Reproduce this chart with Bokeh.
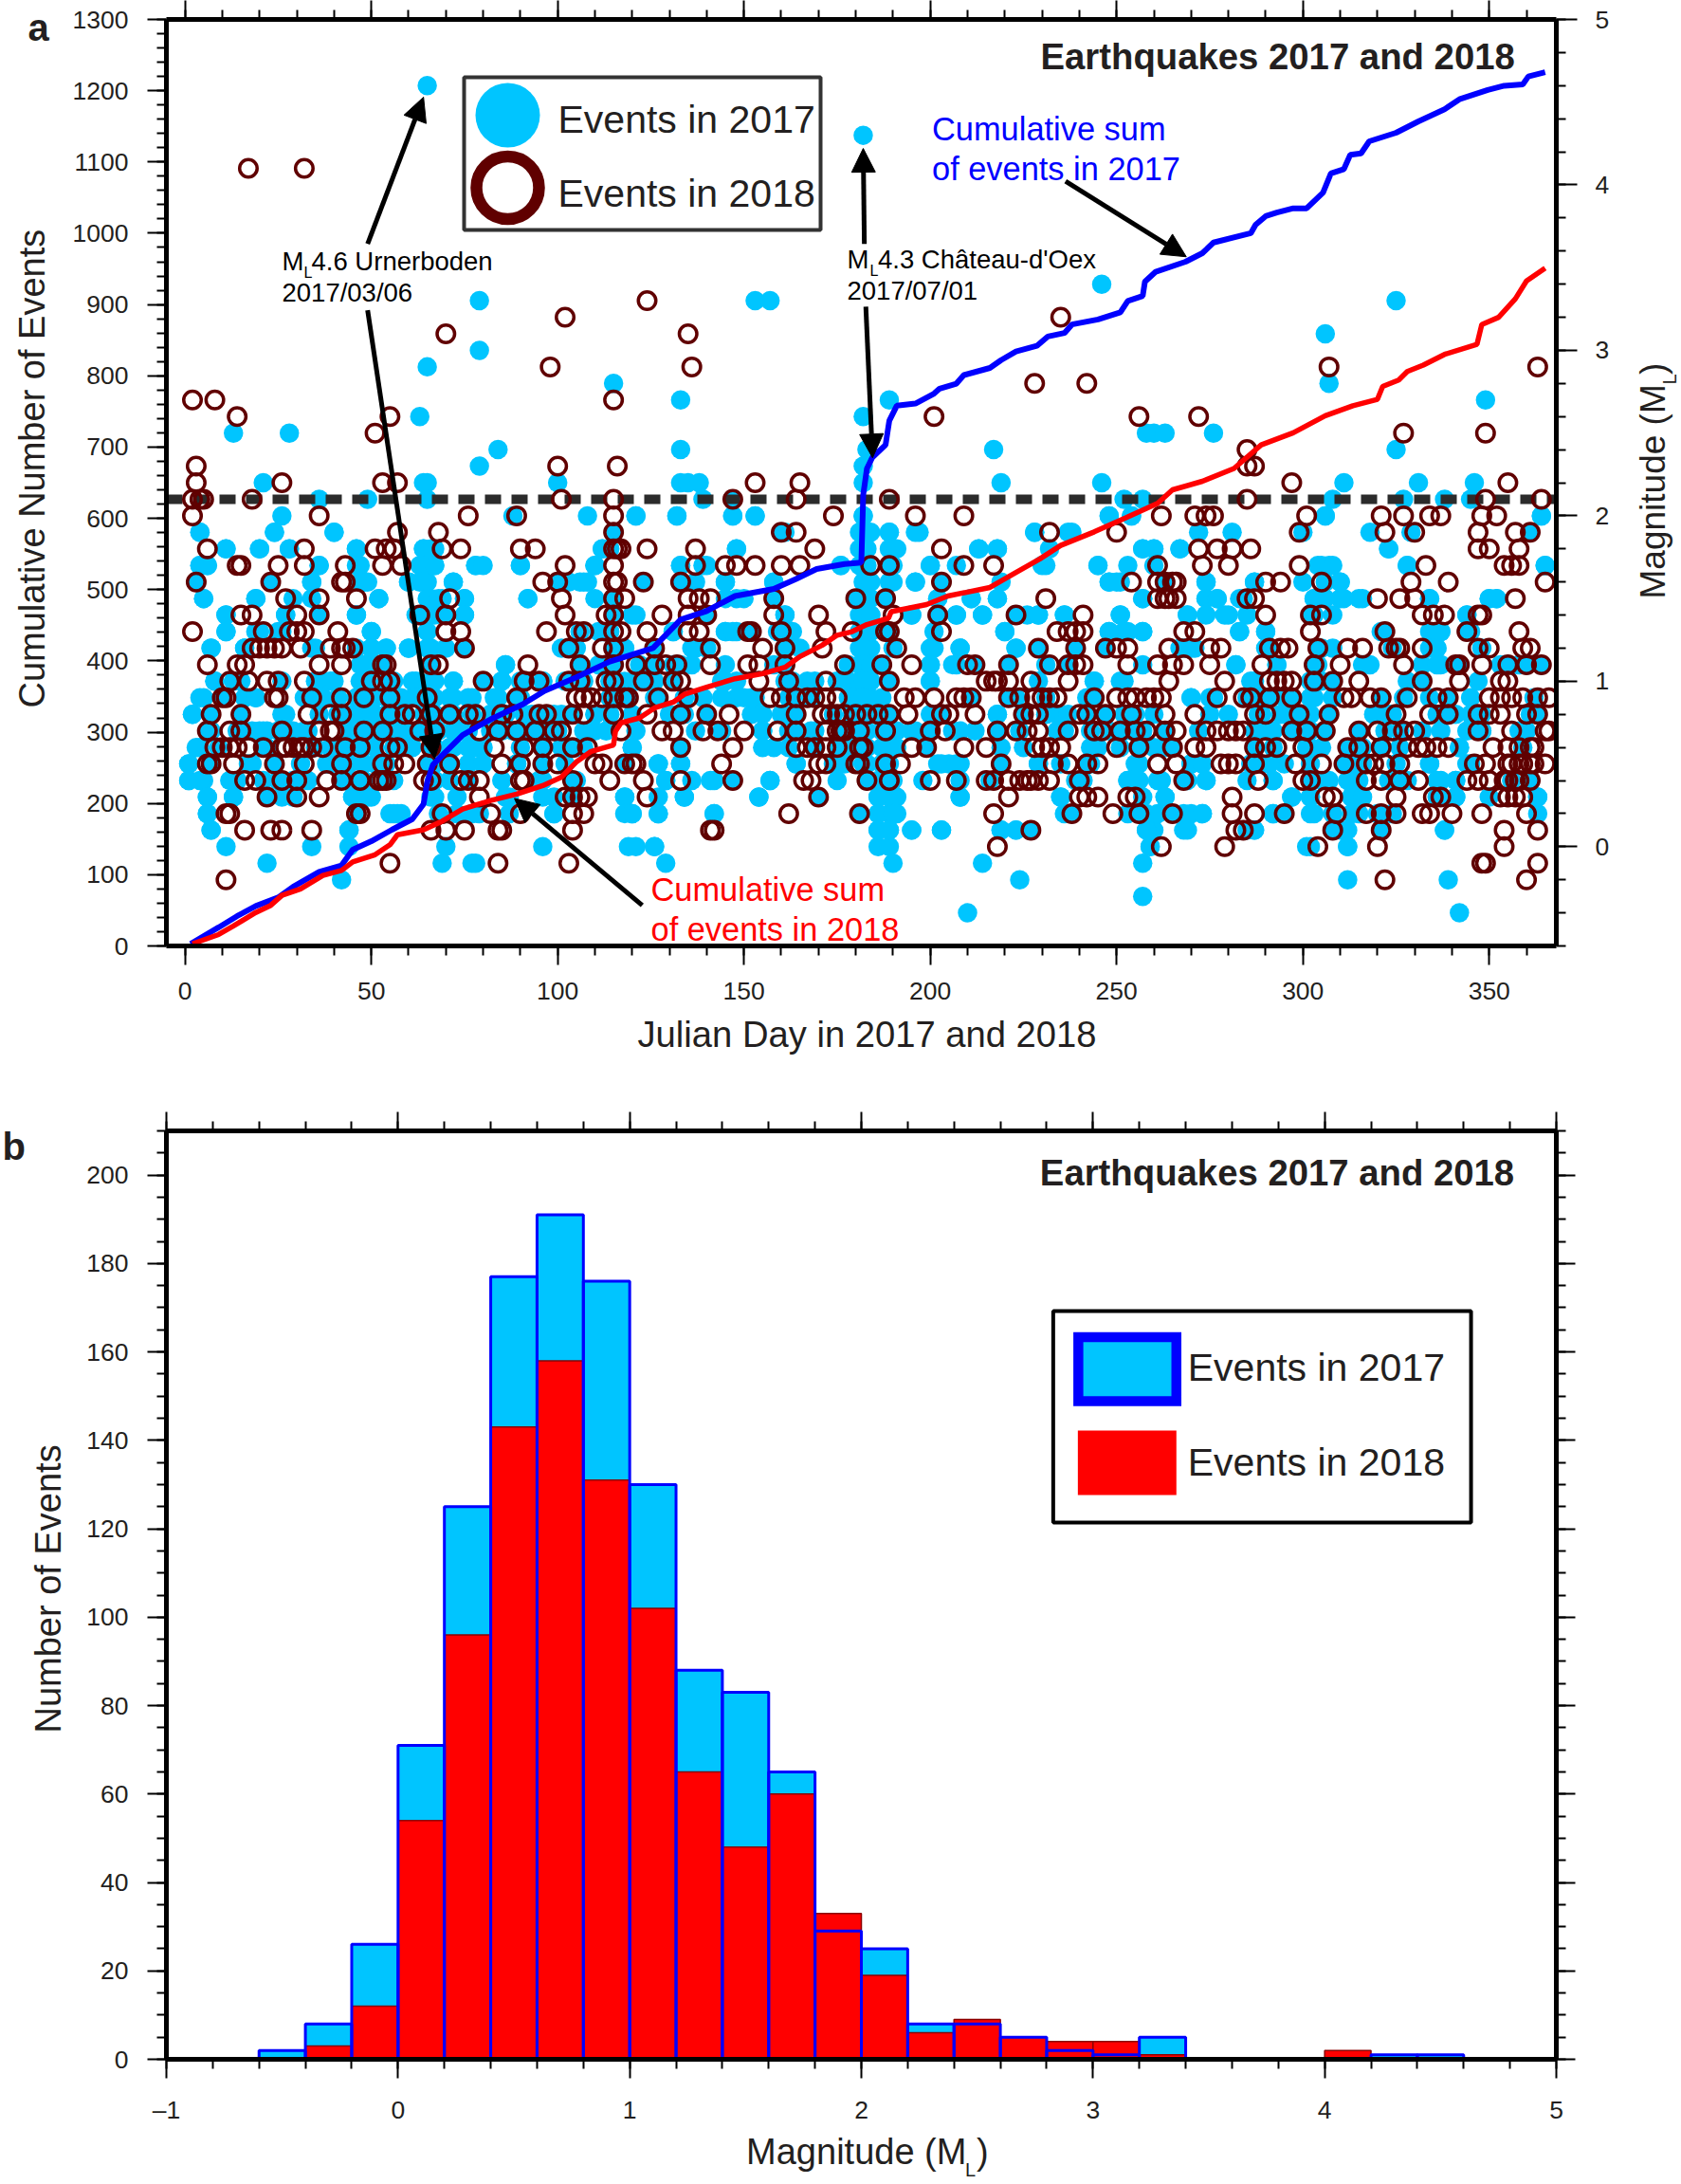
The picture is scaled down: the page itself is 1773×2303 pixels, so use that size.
from bokeh.plotting import figure
from bokeh.layouts import column
from bokeh.embed import file_html
from bokeh.resources import INLINE
from bokeh.models import Range1d, LinearAxis, FixedTicker, Label, Arrow, NormalHead

# ---------- Panel a: events (day of year per 0.1 magnitude class) ----------
mags_2017 = [4.6, 4.3, 3.4, 3.3, 3.1, 3.0, 2.9, 2.8, 2.7, 2.6, 2.5, 2.4, 2.3, 2.2, 2.1, 2.0, 1.9, 1.8, 1.7, 1.6, 1.5,
             1.4, 1.3, 1.2, 1.1, 1.0, 0.9, 0.8, 0.7, 0.6, 0.5, 0.4, 0.3, 0.2, 0.1, 0.0, -0.1, -0.2, -0.3, -0.4]
days_2017 = [
    [65], [182], [246], [79, 153, 157, 325], [306], [79], [65], [115, 307], [133, 189, 349], [63, 182],
    [13, 28, 258, 260, 263, 276], [84, 133, 183, 217, 325], [79, 182],
    [21, 64, 65, 100, 133, 135, 138, 182, 219, 246, 311, 331, 346],
    [36, 49, 65, 139, 147, 252, 257, 308, 327, 338, 345],
    [26, 88, 108, 121, 132, 147, 153, 182, 248, 254, 306, 364],
    [4, 24, 40, 115, 161, 183, 189, 196, 228, 238, 300, 329],
    [11, 20, 28, 46, 64, 67, 112, 114, 148, 183, 190, 213, 218, 257, 260, 267, 323],
    [4, 6, 36, 47, 63, 65, 67, 78, 90, 110, 133, 139, 176, 183, 190, 200, 231, 245, 305, 307, 328, 365],
    [23, 34, 47, 48, 60, 63, 65, 72, 103, 107, 123, 145, 158, 183, 189, 196, 248, 251, 274, 287, 306, 310],
    [5, 19, 29, 34, 52, 66, 69, 75, 92, 110, 148, 182, 183, 202, 211, 218, 257, 274, 277, 283, 303, 310, 315, 334, 350, 352],
    [11, 27, 36, 46, 63, 67, 75, 120, 161, 181, 184, 195, 207, 214, 226, 229, 236, 251, 269, 279, 303, 344],
    [11, 19, 25, 50, 111, 114, 131, 145, 148, 152, 159, 181, 184, 220, 248, 252, 257, 283, 290, 322, 334, 337, 344],
    [7, 16, 34, 46, 50, 54, 60, 66, 70, 101, 105, 118, 126, 137, 181, 184, 200, 208, 223, 239, 267, 270, 290, 305, 334],
    [47, 50, 53, 66, 86, 111, 133, 145, 158, 181, 184, 200, 206, 282, 293, 303, 318, 337, 354, 358],
    [8, 15, 26, 37, 39, 47, 56, 61, 66, 72, 85, 91, 96, 118, 121, 126, 145, 148, 161, 169, 175, 178, 181, 184, 200, 244,
     251, 287, 302, 305, 328, 332, 347],
    [5, 10, 19, 32, 37, 41, 46, 51, 58, 61, 67, 72, 77, 84, 90, 127, 139, 148, 153, 162, 168, 178, 181, 184, 187, 211,
     221, 242, 270, 276, 289, 295, 302, 303, 321, 334, 345],
    [2, 15, 26, 41, 45, 48, 51, 58, 64, 67, 72, 77, 82, 86, 91, 96, 101, 110, 120, 152, 155, 161, 179, 183, 187, 218,
     231, 234, 247, 255, 260, 289, 295, 299, 319, 323, 341, 361],
    [7, 18, 21, 28, 32, 44, 51, 56, 59, 66, 72, 76, 82, 91, 96, 110, 121, 137, 155, 162, 169, 178, 183, 187, 191, 196,
     208, 212, 234, 254, 290, 297, 302, 322, 337, 348, 360],
    [4, 22, 39, 44, 51, 58, 66, 72, 78, 96, 105, 120, 133, 158, 175, 178, 183, 187, 191, 225, 245, 263, 302, 305, 342],
    [1, 18, 38, 44, 51, 67, 76, 89, 96, 118, 127, 133, 164, 174, 183, 187, 202, 205, 208, 229, 242, 255, 270, 273, 289,
     295, 313, 334, 344],
    [1, 5, 12, 25, 44, 54, 67, 96, 105, 129, 142, 157, 175, 183, 186, 190, 241, 253, 261, 268, 274, 292, 305, 312, 315,
     323, 326, 337, 341, 361],
    [6, 13, 26, 45, 50, 66, 86, 99, 118, 134, 154, 186, 189, 191, 208, 235, 263, 297, 302, 313, 337, 341, 363],
    [6, 56, 58, 79, 99, 120, 127, 142, 186, 189, 191, 236, 253, 258, 268, 273, 292, 303, 315, 320],
    [7, 44, 186, 189, 195, 203, 219, 223, 258, 260, 268, 287, 310, 321, 338],
    [11, 34, 44, 70, 96, 119, 126, 186, 189, 259, 301, 312],
    [22, 69, 77, 78, 129, 190, 214, 257],
    [42, 224, 312, 339],
    [257],
    [210, 342],
]

more_mags_2017 = [2.0, 1.9, 1.8, 1.7, 1.6, 1.5, 1.4, 1.3, 1.2, 1.1, 1.0, 0.9, 0.8, 0.7, 0.6, 0.5, 0.4, 0.3, 0.2, 0.1, 0.0]
more_days_2017 = [
    [121, 132, 147, 153, 182, 248, 254, 306, 364],
    [4, 24, 40, 160, 181, 184, 189, 197, 228, 237, 272, 281, 318, 361],
    [11, 20, 28, 46, 64, 66, 112, 148, 181, 189, 191, 213, 218, 232, 257, 260, 267, 323],
    [4, 6, 36, 46, 64, 67, 78, 80, 90, 110, 133, 140, 176, 181, 189, 200, 207, 230, 245, 253, 260, 304, 308, 328, 365],
    [3, 23, 34, 48, 49, 60, 64, 72, 100, 106, 108, 123, 133, 137, 145, 158, 182, 184, 190, 196, 203, 219, 248, 250,
     263, 274, 287, 300, 310],
    [5, 19, 52, 65, 68, 75, 92, 115, 145, 150, 158, 180, 184, 188, 202, 211, 218, 257, 274, 277, 284, 303, 306, 311,
     316, 334, 350, 352],
    [11, 27, 36, 46, 62, 70, 75, 115, 121, 140, 161, 182, 184, 195, 202, 207, 214, 223, 229, 236, 251, 269, 274, 280,
     285, 302, 308, 344],
    [11, 20, 26, 50, 65, 106, 112, 131, 145, 147, 160, 163, 182, 184, 189, 201, 220, 248, 253, 257, 283, 290, 321, 336,
     337, 345],
    [7, 16, 35, 50, 54, 60, 65, 75, 103, 115, 136, 140, 161, 165, 182, 190, 201, 208, 223, 229, 247, 268, 271, 291,
     304, 308, 324, 336, 348],
    [48, 53, 86, 106, 115, 122, 126, 131, 136, 161, 178, 182, 184, 187, 200, 207, 212, 221, 231, 237, 257, 282, 293,
     304, 316, 332, 336, 342, 353, 360, 364],
    [8, 13, 35, 40, 49, 54, 62, 67, 72, 80, 85, 90, 96, 102, 107, 114, 123, 131, 144, 163, 167, 182, 184, 189, 200, 229,
     244, 252, 286, 302, 308, 332],
    [4, 10, 16, 19, 34, 46, 49, 54, 62, 65, 71, 76, 83, 89, 114, 119, 126, 134, 144, 150, 152, 163, 179, 182, 223, 231,
     244, 270, 275, 285, 291, 297, 302, 308, 327, 339, 362],
    [2, 7, 15, 27, 36, 46, 50, 54, 59, 67, 71, 82, 86, 93, 99, 104, 110, 114, 130, 134, 140, 160, 164, 174, 181, 189,
     200, 203, 218, 225, 231, 237, 242, 252, 275, 280, 288, 294, 302, 307, 319, 324, 336, 340, 345, 348, 363],
    [6, 14, 20, 22, 25, 29, 33, 48, 53, 58, 62, 68, 74, 83, 85, 88, 94, 100, 107, 113, 144, 155, 164, 168, 177, 181,
     190, 195, 200, 206, 218, 224, 236, 243, 248, 252, 257, 263, 272, 287, 292, 306, 315, 326, 332, 344, 348, 358],
    [3, 9, 21, 35, 42, 48, 56, 61, 67, 71, 76, 80, 90, 96, 101, 107, 120, 133, 155, 162, 169, 182, 189, 199, 219, 243,
     251, 256, 260, 265, 287, 292, 301, 312, 316, 321, 326, 342, 359],
    [1, 7, 17, 24, 31, 39, 42, 48, 54, 65, 71, 80, 89, 96, 102, 127, 133, 164, 177, 182, 189, 203, 207, 219, 229, 235,
     243, 256, 270, 273, 286, 291, 302, 311, 316, 325, 334, 345],
    [1, 4, 14, 21, 29, 33, 42, 48, 56, 67, 71, 76, 85, 95, 104, 129, 136, 141, 147, 157, 183, 189, 198, 208, 216, 239,
     253, 256, 262, 269, 274, 285, 292, 302, 307, 313, 328, 336, 341, 356],
    [6, 13, 22, 29, 45, 49, 67, 73, 87, 96, 104, 118, 127, 134, 154, 170, 186, 190, 208, 235, 257, 263, 297, 302, 313,
     316, 336, 341, 350, 363],
    [6, 46, 55, 57, 68, 73, 77, 87, 99, 118, 120, 127, 142, 181, 186, 190, 238, 256, 261, 265, 270, 273, 292, 295, 302,
     308, 313, 324, 363],
    [7, 44, 186, 189, 195, 203, 219, 223, 227, 258, 269, 285, 287, 308, 312, 321, 338],
    [121, 126, 259, 302, 312],
]

mags_2018 = [4.1, 3.3, 3.2, 3.1, 2.9, 2.8, 2.7, 2.6, 2.5, 2.4, 2.3, 2.2, 2.1, 2.0, 1.9, 1.8, 1.7, 1.6, 1.5, 1.4, 1.3,
             1.2, 1.1, 1.0, 0.9, 0.8, 0.7, 0.6, 0.5, 0.4, 0.3, 0.2, 0.1, 0.0, -0.1, -0.2]
days_2018 = [
    [17, 32], [124], [102, 235], [70, 135], [98, 136, 307, 363], [228, 242], [2, 8, 115], [14, 55, 201, 256, 272],
    [51, 327, 349], [285], [3, 100, 116, 285, 287], [3, 26, 53, 57, 153, 165, 297, 355],
    [2, 4, 5, 18, 101, 115, 147, 164, 189, 285, 349, 364],
    [2, 36, 76, 89, 115, 174, 196, 209, 262, 271, 274, 276, 301, 321, 327, 334, 337, 348, 352],
    [57, 68, 115, 160, 164, 232, 250, 299, 322, 330, 347, 357, 361],
    [6, 32, 51, 54, 56, 69, 74, 90, 94, 115, 116, 117, 124, 137, 169, 203, 272, 277, 281, 286, 347, 350, 358],
    [14, 15, 25, 32, 43, 53, 58, 102, 115, 137, 145, 148, 153, 160, 165, 184, 189, 209, 217, 261, 273, 280, 299, 333,
     354, 356, 358],
    [3, 23, 42, 43, 96, 100, 115, 116, 123, 133, 203, 254, 261, 263, 265, 266, 290, 294, 305, 329, 339, 365],
    [27, 36, 46, 71, 101, 115, 118, 135, 138, 141, 158, 180, 188, 231, 261, 263, 264, 266, 285, 287, 320, 326, 330, 357],
    [15, 18, 30, 36, 63, 70, 102, 113, 115, 128, 135, 140, 158, 170, 190, 202, 223, 241, 290, 302, 305, 332, 335, 338,
     347, 348],
    [2, 21, 28, 30, 32, 41, 70, 74, 97, 105, 107, 115, 117, 124, 135, 138, 151, 152, 160, 172, 179, 188, 189, 203, 234,
     237, 239, 241, 268, 271, 302, 322, 344, 358],
    [18, 20, 22, 24, 26, 31, 39, 42, 43, 45, 75, 103, 112, 115, 126, 141, 155, 161, 171, 191, 229, 239, 247, 250, 253,
     264, 275, 278, 291, 294, 296, 304, 312, 316, 323, 325, 326, 332, 347, 350, 359, 361],
    [6, 14, 16, 36, 42, 53, 54, 66, 68, 92, 106, 115, 121, 126, 129, 132, 141, 151, 154, 161, 177, 187, 195, 210, 212,
     221, 232, 237, 239, 241, 253, 261, 265, 268, 275, 289, 303, 310, 327, 341, 342, 348, 355, 360, 364],
    [12, 17, 22, 25, 32, 50, 53, 55, 80, 91, 95, 103, 106, 113, 115, 123, 131, 133, 154, 162, 172, 189, 215, 217, 218,
     221, 227, 237, 264, 279, 291, 293, 295, 297, 303, 308, 315, 332, 342, 353, 355],
    [10, 11, 24, 25, 34, 42, 48, 55, 65, 89, 105, 107, 109, 112, 115, 118, 119, 127, 135, 157, 160, 164, 167, 169, 172,
     175, 193, 196, 201, 207, 209, 211, 221, 224, 228, 230, 232, 234, 244, 250, 253, 255, 258, 260, 262, 277, 284, 286,
     291, 297, 311, 313, 318, 321, 328, 336, 339, 350, 353, 356, 359, 363, 366],
    [7, 15, 33, 39, 42, 55, 59, 61, 66, 71, 76, 78, 85, 88, 95, 97, 104, 107, 115, 124, 133, 140, 146, 164, 171, 173,
     175, 177, 180, 183, 186, 189, 194, 203, 205, 212, 225, 227, 229, 240, 242, 247, 254, 263, 271, 287, 290, 299, 307,
     325, 334, 339, 347, 350, 353, 360, 363],
    [6, 12, 15, 26, 36, 39, 40, 48, 53, 63, 67, 79, 84, 89, 94, 99, 101, 117, 128, 131, 139, 143, 150, 159, 164, 172,
     175, 177, 176, 181, 188, 200, 204, 218, 223, 226, 229, 237, 244, 246, 251, 255, 258, 263, 266, 274, 277, 280, 282,
     284, 297, 301, 306, 315, 320, 324, 327, 330, 347, 356, 365, 366],
    [8, 10, 12, 14, 17, 21, 26, 27, 29, 31, 32, 34, 37, 43, 47, 55, 57, 66, 83, 91, 96, 104, 108, 133, 147, 164, 167,
     169, 172, 175, 181, 182, 195, 199, 209, 215, 228, 230, 232, 235, 250, 256, 265, 271, 274, 287, 290, 293, 300, 312,
     315, 321, 328, 331, 333, 336, 339, 351, 355, 358, 361, 362],
    [6, 7, 13, 24, 32, 42, 53, 56, 59, 65, 71, 85, 90, 96, 100, 110, 112, 118, 120, 121, 144, 170, 172, 180, 181, 188,
     192, 219, 233, 237, 242, 245, 261, 266, 278, 280, 282, 287, 298, 305, 311, 317, 319, 322, 326, 346, 349, 355, 356,
     358, 359, 361, 362, 365],
    [16, 19, 26, 30, 38, 42, 47, 52, 53, 54, 64, 66, 74, 76, 79, 90, 91, 104, 114, 123, 133, 147, 166, 168, 183, 189,
     200, 207, 215, 217, 221, 224, 226, 227, 229, 232, 240, 268, 288, 300, 302, 317, 321, 326, 331, 344, 347, 350, 354,
     355, 357, 358, 361],
    [22, 30, 36, 79, 102, 104, 106, 108, 124, 170, 221, 240, 242, 245, 253, 255, 281, 306, 308, 325, 335, 337, 353, 355,
     357, 359],
    [11, 12, 46, 47, 69, 82, 90, 104, 107, 162, 181, 217, 238, 249, 256, 265, 281, 287, 295, 309, 317, 321, 325, 332,
     334, 340, 348, 360],
    [16, 23, 26, 34, 66, 70, 75, 84, 85, 104, 141, 142, 227, 282, 284, 308, 321, 354, 363],
    [218, 262, 279, 304, 320, 354],
    [55, 84, 103, 348, 349, 363],
    [11, 322, 360],
]

threshold_mag = 2.1

# Cumulative sums: (day, number of events)
cum_days_2017 = [1.5, 9, 14, 19, 25, 29, 36, 42, 45, 50, 55.5, 61, 64, 65, 66.5, 69.5, 74.5, 82, 90.6, 96.5, 105, 114,
                 125.6, 133, 140, 147.6, 158, 164, 169.5, 177, 181.5, 182, 183, 184.4, 188, 189, 191, 196, 201, 202.5,
                 207, 209, 216, 219, 223, 228.6, 231.5, 236, 238, 245, 251, 253, 257, 257.6, 260.5, 268.5, 273, 276,
                 286, 287.3, 290, 293, 297.4, 301, 305.4, 307.5, 311, 312.7, 315.6, 317.8, 325, 331, 338, 342, 349.6,
                 354, 359, 360.5, 365]
cum_vals_2017 = [3, 26, 42, 56, 68, 83, 104, 113, 135, 147, 163, 178, 199, 230, 254, 270, 296, 318, 339, 358, 377, 399,
                 418, 458, 470, 491, 501, 515, 529, 536, 538, 633, 670, 685, 703, 737, 758, 761, 775, 782, 789, 801,
                 811, 822, 834, 842, 855, 860, 872, 879, 889, 905, 912, 932, 946, 960, 972, 987, 1000, 1012, 1024,
                 1029, 1035, 1035, 1057, 1084, 1090, 1110, 1112, 1129, 1141, 1157, 1174, 1188, 1201, 1207, 1209, 1220,
                 1226]
cum_days_2018 = [2, 9, 13, 19, 23, 26, 31, 37, 42, 45, 51, 55, 57, 64, 69, 74.5, 82, 89, 96, 101, 105, 109, 115, 115.5,
                 117, 122, 126, 131, 134, 140, 147.6, 155, 161, 165, 171, 175, 179, 183, 188.8, 189.5, 199, 204.7, 216,
                 222, 229.4, 235, 244, 252.6, 261, 265, 273, 281.5, 288.8, 297.4, 306, 313.4, 320, 321.4, 325.7, 328,
                 332.3, 338, 346.7, 348, 352.5, 357, 360, 365]
cum_vals_2018 = [3, 16, 28, 47, 57, 71, 80, 99, 106, 118, 128, 142, 156, 163, 175, 192, 204, 213, 225, 237, 258, 273,
                 282, 301, 313, 320, 334, 342, 353, 363, 375, 382, 391, 406, 422, 436, 441, 451, 460, 469, 479, 491,
                 503, 521, 543, 562, 581, 601, 621, 640, 652, 670, 703, 720, 744, 758, 767, 785, 794, 806, 815, 830,
                 844, 872, 882, 908, 933, 951]

# ---------- Panel b: histogram ----------
bin_left = [-0.6, -0.4, -0.2, 0.0, 0.2, 0.4, 0.6, 0.8, 1.0, 1.2, 1.4, 1.6, 1.8, 2.0, 2.2, 2.4, 2.6, 2.8, 3.0, 3.2, 3.4,
            3.6, 3.8, 4.0, 4.2, 4.4]
bin_right = [-0.4, -0.2, 0.0, 0.2, 0.4, 0.6, 0.8, 1.0, 1.2, 1.4, 1.6, 1.8, 2.0, 2.2, 2.4, 2.6, 2.8, 3.0, 3.2, 3.4, 3.6,
             3.8, 4.0, 4.2, 4.4, 4.6]
hist_2017 = [2, 8, 26, 71, 125, 177, 191, 176, 130, 88, 83, 65, 29, 25, 8, 8, 5, 2, 1, 5, 0, 0, 0, 0, 1, 1]
hist_2018 = [0, 3, 12, 54, 96, 143, 158, 131, 102, 65, 48, 60, 33, 19, 6, 9, 5, 4, 4, 1, 0, 0, 0, 2, 0, 0]

CYAN, MAROON, BLUE, RED = "#00c5ff", "#600000", "#0000ff", "#ff0000"
TXT, FONT = "#231f20", "Liberation Sans"
W, Ha, Hb = 1773, 1130, 1173

def setup(p, major_b, minor_b):
    for ax in p.axis:
        ax.axis_line_width = 5
        ax.axis_line_color = "black"
        ax.major_tick_line_width = 2
        ax.minor_tick_line_width = 2
        ax.major_tick_line_color = "black"
        ax.minor_tick_line_color = "black"
        ax.major_tick_out = 20
        ax.minor_tick_out = 10
        ax.major_tick_in = 0
        ax.minor_tick_in = 0
        ax.major_label_text_font = FONT
        ax.major_label_text_font_size = "26.5px"
        ax.major_label_text_color = TXT
    p.xaxis.ticker = FixedTicker(ticks=major_b, minor_ticks=minor_b)
    p.outline_line_color = None
    p.xgrid.visible = False
    p.ygrid.visible = False
    p.background_fill_color = "white"

def blank(ax, ticks):
    ax.major_label_overrides = {t: "" for t in ticks}
    ax.major_label_text_font_size = "1px"
    ax.major_label_standoff = 0

# ---------- Panel a figure ----------
fa = figure(width=W, height=Ha, x_range=Range1d(-5, 368), y_range=Range1d(0, 1300),
            toolbar_location=None, output_backend="svg", min_border_left=175, min_border_right=132,
            min_border_top=20, min_border_bottom=133)
fa.extra_y_ranges = {"mag": Range1d(-0.6, 5)}
days_major = list(range(0, 351, 50))
days_minor = list(range(0, 361, 10))
cum_major = list(range(0, 1301, 100))
cum_minor = list(range(0, 1301, 20))
mag_major = [0, 1, 2, 3, 4, 5]
mag_minor = [round(-0.6 + 0.2 * i, 1) for i in range(29)]
fa.add_layout(LinearAxis(y_range_name="mag"), "right")
fa.add_layout(LinearAxis(), "above")
setup(fa, days_major, days_minor)
fa.left[0].ticker = FixedTicker(ticks=cum_major, minor_ticks=cum_minor)
fa.right[0].ticker = FixedTicker(ticks=mag_major, minor_ticks=mag_minor)
fa.above[0].ticker = FixedTicker(ticks=days_major, minor_ticks=days_minor)
blank(fa.above[0], days_major)
fa.below[0].major_label_standoff = 18
fa.left[0].major_label_standoff = 20
fa.right[0].major_label_standoff = 19
fa.right[0].major_tick_out = 22

ax17 = [d for m, ds in zip(mags_2017, days_2017) for d in ds]
ay17 = [m for m, ds in zip(mags_2017, days_2017) for d in ds]
ax17 += [d for m, ds in zip(more_mags_2017, more_days_2017) for d in ds]
ay17 += [m for m, ds in zip(more_mags_2017, more_days_2017) for d in ds]
ax18 = [d for m, ds in zip(mags_2018, days_2018) for d in ds]
ay18 = [m for m, ds in zip(mags_2018, days_2018) for d in ds]
fa.scatter(ax17, ay17, y_range_name="mag", size=20.5, fill_color=CYAN, line_color=None)
fa.line(x=[-5, 368], y=[threshold_mag, threshold_mag], y_range_name="mag", line_color="#2b2b2b", line_width=10,
        line_dash="17 11")
fa.scatter(ax18, ay18, y_range_name="mag", size=18.5, fill_color=None, line_color=MAROON, line_width=3.5)
fa.line(cum_days_2017, cum_vals_2017, line_color=BLUE, line_width=6)
fa.line(cum_days_2018, cum_vals_2018, line_color=RED, line_width=5.5)

def ax_x(px): return -5 + (px - 175) * 373 / 1466
def ax_y(py): return (997 - py) * 1300 / 977
def bx_x(px): return -1 + (px - 175) * 6 / 1467
def bx_y(py): return (2171 - py) * 210 / 979

DROP = 0.3  # Bokeh sets "alphabetic" text this fraction of the size below the anchor

def text(p, conv, px, py, s, size, color=TXT, bold=False, angle=0.0, side=None):
    if angle:
        px -= DROP * size
    else:
        py -= DROP * size
    lab = Label(x=conv[0](px), y=conv[1](py), text=s, text_font=FONT, text_font_size=f"{size}px",
                text_color=color, text_font_style="bold" if bold else "normal", text_align="left",
                text_baseline="alphabetic", angle=angle, level="overlay")
    if side:
        p.add_layout(lab, side)
    else:
        p.add_layout(lab)

CA, CB = (ax_x, ax_y), (bx_x, bx_y)
PI2 = 1.5707963

# arrows (tail day, tail count, head day, head count)
arrows = [(49, 985, 64, 1191), (49, 892, 67, 263), (182.3, 985, 182, 1119), (182.7, 897, 184.5, 685),
          (236.3, 1073, 268.7, 967), (122.7, 57, 88.4, 207)]
for x0, y0, x1, y1 in arrows:
    fa.add_layout(Arrow(x_start=x0, y_start=y0, x_end=x1, y_end=y1, line_color="black", line_width=5,
                        end=NormalHead(size=25, fill_color="black", line_color="black", line_width=1)))

# legend of panel a
fa.quad(left=[ax_x(489)], right=[ax_x(865)], top=[ax_y(81)], bottom=[ax_y(242)], fill_color="white",
        line_color="#333333", line_width=4, level="annotation")
fa.scatter([ax_x(535)], [ax_y(121)], size=68, fill_color=CYAN, line_color=None, level="annotation")
fa.scatter([ax_x(535)], [ax_y(197.5)], size=66, fill_color=None, line_color=MAROON, line_width=12.5, level="annotation")
text(fa, CA, 588, 138, "Events in 2017", 41)
text(fa, CA, 588, 216, "Events in 2018", 41)

text(fa, CA, 29, 40, "a", 40, bold=True, side="left")
text(fa, CA, 1097, 70, "Earthquakes 2017 and 2018", 38.3, bold=True)
text(fa, CA, 297, 283, "M", 27.5, color="black")
text(fa, CA, 320, 292, "L", 16, color="black")
text(fa, CA, 328, 283, "4.6 Urnerboden", 27.5, color="black")
text(fa, CA, 297, 316, "2017/03/06", 27.5, color="black")
text(fa, CA, 893, 281, "M", 27.5, color="black")
text(fa, CA, 917, 290, "L", 16, color="black")
text(fa, CA, 925.5, 281, "4.3 Château-d'Oex", 27.5, color="black")
text(fa, CA, 893, 314, "2017/07/01", 27.5, color="black")
text(fa, CA, 982.5, 146, "Cumulative sum", 34.4, color=BLUE)
text(fa, CA, 982.5, 188, "of events in 2017", 34.4, color=BLUE)
text(fa, CA, 686, 948, "Cumulative sum", 34.4, color=RED)
text(fa, CA, 686, 990, "of events in 2018", 34.4, color=RED)
text(fa, CA, 672, 1101, "Julian Day in 2017 and 2018", 38.2, side="below")
text(fa, CA, 45, 746, "Cumulative Number of Events", 38, angle=PI2, side="left")
text(fa, CA, 1754, 631, "Magnitude (M\u00a0)", 37, angle=PI2, side="right")
text(fa, CA, 1766, 405, "L", 20, angle=PI2, side="right")

# ---------- Panel b figure ----------
fb = figure(width=W, height=Hb, x_range=Range1d(-1, 5), y_range=Range1d(0, 210),
            toolbar_location=None, output_backend="svg", min_border_left=175, min_border_right=131,
            min_border_top=62, min_border_bottom=132)
fb.add_layout(LinearAxis(), "right")
fb.add_layout(LinearAxis(), "above")
mb_major = [-1, 0, 1, 2, 3, 4, 5]
mb_minor = [round(-1 + 0.2 * i, 1) for i in range(31)]
nb_major = list(range(0, 201, 20))
nb_minor = list(range(0, 211, 5))
setup(fb, mb_major, mb_minor)
fb.left[0].ticker = FixedTicker(ticks=nb_major, minor_ticks=nb_minor)
fb.right[0].ticker = FixedTicker(ticks=nb_major, minor_ticks=nb_minor)
fb.above[0].ticker = FixedTicker(ticks=mb_major, minor_ticks=mb_minor)
blank(fb.above[0], mb_major)
blank(fb.right[0], nb_major)
fb.below[0].major_label_standoff = 18
fb.left[0].major_label_standoff = 20
fb.below[0].major_label_overrides = {-1: "–1"}

def nz(vals, *cols):
    keep = [i for i, v in enumerate(vals) if v > 0]
    return [[c[i] for i in keep] for c in cols]

l17, r17, t17 = nz(hist_2017, bin_left, bin_right, hist_2017)
l18, r18, t18 = nz(hist_2018, bin_left, bin_right, hist_2018)
fb.quad(left=l17, right=r17, top=t17, bottom=0, fill_color=CYAN, line_color=None)
fb.quad(left=l18, right=r18, top=t18, bottom=0, fill_color=RED, line_color="#8b0000", line_width=1.5)
fb.quad(left=l17, right=r17, top=t17, bottom=0, fill_color=None, line_color=BLUE, line_width=3)

# legend of panel b
fb.quad(left=[bx_x(1111)], right=[bx_x(1552)], top=[bx_y(1382)], bottom=[bx_y(1605)], fill_color="white",
        line_color="black", line_width=4, level="annotation")
fb.quad(left=[bx_x(1137.5)], right=[bx_x(1241)], top=[bx_y(1409.5)], bottom=[bx_y(1477)], fill_color=CYAN,
        line_color=BLUE, line_width=10.5, level="annotation", line_join="miter")
fb.quad(left=[bx_x(1137)], right=[bx_x(1241)], top=[bx_y(1508)], bottom=[bx_y(1576)], fill_color=RED,
        line_color=None, level="annotation")
text(fb, CB, 1253, 1454, "Events in 2017", 41)
text(fb, CB, 1253, 1554, "Events in 2018", 41)

text(fb, CB, 2, 1220, "b", 40, bold=True, side="right")
text(fb, CB, 1097, 1247, "Earthquakes 2017 and 2018", 38.3, bold=True)
text(fb, CB, 62, 1827, "Number of Events", 38, angle=PI2, side="left")
text(fb, CB, 787, 2280, "Magnitude (M\u00a0)", 38, side="below")
text(fb, CB, 1018, 2293, "L", 20, side="right")

root = column(fa, fb, spacing=0)
open("out.html", "w").write(file_html(root, INLINE))
